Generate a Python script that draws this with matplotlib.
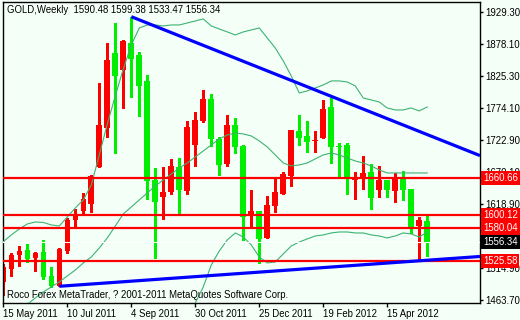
import numpy as np
import matplotlib
matplotlib.use('Agg')
import matplotlib.pyplot as plt
import matplotlib.transforms as mtransforms

# weekly GOLD candles, 15 May 2011 .. 20 May 2012
opens = [1492.7, 1512.8, 1535.5, 1544.5, 1530.6, 1540.8, 1502.4, 1486.2, 1542.9, 1592.7,
         1606.8, 1618.6, 1679.0, 1742.2, 1862.7, 1835.7, 1878.9, 1860.0, 1817.9, 1657.5,
         1630.4, 1637.5, 1678.5, 1640.1, 1714.2, 1753.5, 1788.7, 1723.4, 1683.4, 1746.6,
         1713.0, 1600.8, 1607.2, 1564.0, 1615.8, 1634.3, 1664.4, 1736.9, 1728.8, 1720.7,
         1726.0, 1775.2, 1713.0, 1714.2, 1657.5, 1660.2, 1669.9, 1641.3, 1657.5, 1640.1,
         1661.8, 1642.9, 1583.4, 1590.48]
highs = [1521.4, 1538.7, 1550.5, 1553.8, 1541.3, 1560.3, 1517.0, 1546.8, 1595.4, 1610.0,
         1635.9, 1665.6, 1815.1, 1878.9, 1912.3, 1884.3, 1922.0, 1865.3, 1827.6, 1676.4,
         1679.0, 1691.5, 1693.6, 1753.1, 1767.2, 1803.3, 1796.3, 1727.6, 1762.8, 1757.4,
         1714.2, 1641.3, 1607.2, 1632.0, 1659.1, 1669.9, 1738.5, 1762.8, 1753.1, 1736.9,
         1787.1, 1789.8, 1716.9, 1716.9, 1669.9, 1696.3, 1683.4, 1680.1, 1657.5, 1668.3,
         1672.0, 1642.9, 1598.0, 1599.38]
lows = [1471.1, 1501.9, 1518.6, 1524.1, 1510.5, 1496.6, 1484.6, 1485.2, 1539.7, 1580.2,
        1602.4, 1605.6, 1679.0, 1727.6, 1701.7, 1774.6, 1792.4, 1761.6, 1626.7, 1531.6,
        1594.3, 1634.3, 1602.4, 1634.3, 1680.6, 1751.9, 1713.0, 1665.6, 1680.6, 1701.7,
        1560.3, 1580.2, 1522.5, 1564.0, 1605.1, 1634.3, 1648.2, 1714.2, 1703.3, 1703.3,
        1726.0, 1685.5, 1661.2, 1634.3, 1626.7, 1642.9, 1610.5, 1630.4, 1630.4, 1622.3,
        1625.1, 1572.1, 1526.7, 1533.47]
closes = [1517.0, 1535.9, 1542.9, 1529.5, 1539.7, 1500.3, 1486.2, 1545.2, 1593.1, 1600.8,
          1626.7, 1663.9, 1746.6, 1851.9, 1826.0, 1882.7, 1853.5, 1810.2, 1655.8, 1622.3,
          1638.0, 1680.6, 1641.3, 1743.8, 1754.7, 1788.7, 1723.4, 1682.3, 1746.6, 1710.4,
          1597.0, 1607.2, 1561.9, 1617.0, 1638.0, 1667.2, 1738.5, 1725.0, 1719.5, 1722.3,
          1772.5, 1711.4, 1711.4, 1658.6, 1659.6, 1668.3, 1628.8, 1657.5, 1641.3, 1661.8,
          1641.3, 1578.1, 1592.7, 1556.34]

# bollinger bands (nan = not shown)
nan = np.nan
bb_upper = [1557.5, 1568.4, 1578.1, 1586.2, 1589.4, 1588.6, 1584.6, 1582.9, 1597.5, 1612.1,
            1625.1, 1649.4, 1698.0, 1748.2, 1793.6, 1837.3, 1876.2, 1903.7, 1908.6, 1908.6,
            1907.0, 1908.6, 1908.6, 1911.8, 1915.1, 1918.3, 1907.0, 1902.1, 1897.3, 1892.4,
            1897.3, 1900.5, 1903.7, 1887.5, 1871.3, 1850.3, 1826.0, 1798.4, 1801.7, 1806.5,
            1811.4, 1817.9, 1817.9, 1816.2, 1809.8, 1790.3, 1787.1, 1783.8, 1774.1, 1770.9,
            1770.9, 1774.1, 1769.3, 1775.7]
bb_mid = [nan, nan, nan, 1456.0, 1466.3, 1476.0, 1484.1, 1492.2, 1501.9, 1511.6,
          1523.0, 1532.7, 1547.3, 1563.5, 1582.9, 1602.4, 1613.7, 1625.1, 1636.4, 1647.7,
          1657.5, 1667.2, 1676.9, 1685.0, 1694.7, 1704.4, 1714.2, 1723.9, 1730.4, 1733.6,
          1732.0, 1728.8, 1720.7, 1710.9, 1698.0, 1685.0, 1680.1, 1681.8, 1685.0, 1691.5,
          1698.0, 1701.2, 1698.0, 1693.1, 1688.2, 1685.0, 1680.1, 1673.7, 1668.8, 1668.8,
          1668.8, 1668.8, 1668.8, 1668.8]
bb_lower = [nan] * 24 + [
          1458.2, 1484.1, 1519.7, 1542.4, 1560.3, 1571.6,
          1565.1, 1552.2, 1532.7, 1523.0, 1524.6, 1537.6, 1550.5, 1557.0, 1561.9, 1566.7,
          1568.4, 1571.6, 1573.2, 1573.2, 1571.6, 1571.6, 1568.4, 1566.7, 1563.5, 1566.7,
          1571.6, 1570.0, 1565.1, 1573.2]

date_idx = [0, 8, 16, 24, 32, 40, 48]
date_labels = ['15 May 2011', '10 Jul 2011', '4 Sep 2011', '30 Oct 2011',
               '25 Dec 2011', '19 Feb 2012', '15 Apr 2012']
ytick_vals = [1463.70, 1514.90, 1567.70, 1618.90, 1670.10,
              1722.90, 1774.10, 1825.30, 1878.10, 1929.30]
levels = [1660.66, 1600.12, 1580.04, 1525.58]
last_price = 1556.34
# trend lines: two anchor points each (candle index, price), drawn as rays
down_line = [(16, 1922.0), (53, 1731.0)]
up_line = [(7, 1485.2), (52, 1526.5)]

bg = '#f4fff8'
fnt = 'Liberation Sans'
fs = 6.9

fig = plt.figure(figsize=(5.2, 3.2), dpi=100, facecolor=bg)
ax = fig.add_axes([3 / 520, 17.3 / 320, 477 / 520, 300.4 / 320], facecolor=bg)

x = np.arange(len(opens))
o = np.array(opens); h = np.array(highs); l = np.array(lows); c = np.array(closes)
cols = np.where(c >= o, '#ff0000', '#00ee00')

ax.vlines(x, l, h, colors=cols, lw=1, antialiased=False, zorder=2)
bot = np.minimum(o, c)
hgt = np.maximum(np.abs(c - o), 1.3)
ax.bar(x, hgt, 0.7, bottom=bot, color=cols, lw=0, antialiased=False, zorder=2)

for band in (bb_upper, bb_mid, bb_lower):
    ax.plot(x, band, color='#3cb371', lw=0.8, zorder=3)

xmin, xmax = -0.04, 59.6
ax.set_xlim(xmin, xmax)
ax.set_ylim(1458.6, 1945.3)

for lv in levels:
    ax.axhline(lv, color='#ff0000', lw=1.6, zorder=4)
ax.axhline(last_price, color='white', lw=0.8, zorder=4)

for (x1, y1), (x2, y2) in (down_line, up_line):
    k = (y2 - y1) / (x2 - x1)
    ax.plot([x1, xmax], [y1, y1 + k * (xmax - x1)], color='#0000ff', lw=2.3,
            solid_capstyle='butt', zorder=5)

for sp in ax.spines.values():
    sp.set_color('black')
    sp.set_linewidth(1)

ax.yaxis.tick_right()
ax.set_yticks(ytick_vals)
ax.set_yticklabels(['%.2f' % v for v in ytick_vals], fontsize=fs, family=fnt)
ax.set_xticks(date_idx)
ax.set_xticklabels(date_labels, fontsize=fs, family=fnt, ha='left')
ax.tick_params(axis='y', direction='out', length=2.5, width=1, pad=1.5, colors='black')
ax.tick_params(axis='x', direction='out', length=3, width=1, pad=1.5, colors='black')

trans = mtransforms.blended_transform_factory(ax.transAxes, ax.transData)
for lv in levels:
    ax.text(1.006, lv, '%.2f' % lv, transform=trans, ha='left', va='center',
            fontsize=fs, family=fnt, color='white', clip_on=False, zorder=6,
            bbox=dict(boxstyle='square,pad=0.22', fc='#ff0000', ec='none'))
ax.text(1.006, last_price, '%.2f' % last_price, transform=trans, ha='left', va='center',
        fontsize=fs, family=fnt, color='white', clip_on=False, zorder=6,
        bbox=dict(boxstyle='square,pad=0.22', fc='black', ec='none'))

fig.text(7 / 520, 1 - 10 / 320, 'GOLD,Weekly  %.2f %.2f %.2f %.2f' % (opens[-1], highs[-1], lows[-1], closes[-1]),
         fontsize=fs, family=fnt, va='center', ha='left', color='black')
fig.text(7 / 520, 1 - 295 / 320, 'Roco Forex MetaTrader, ? 2001-2011 MetaQuotes Software Corp.',
         fontsize=fs, family=fnt, va='center', ha='left', color='black')

fig.savefig('out.png', dpi=100, facecolor=bg)
